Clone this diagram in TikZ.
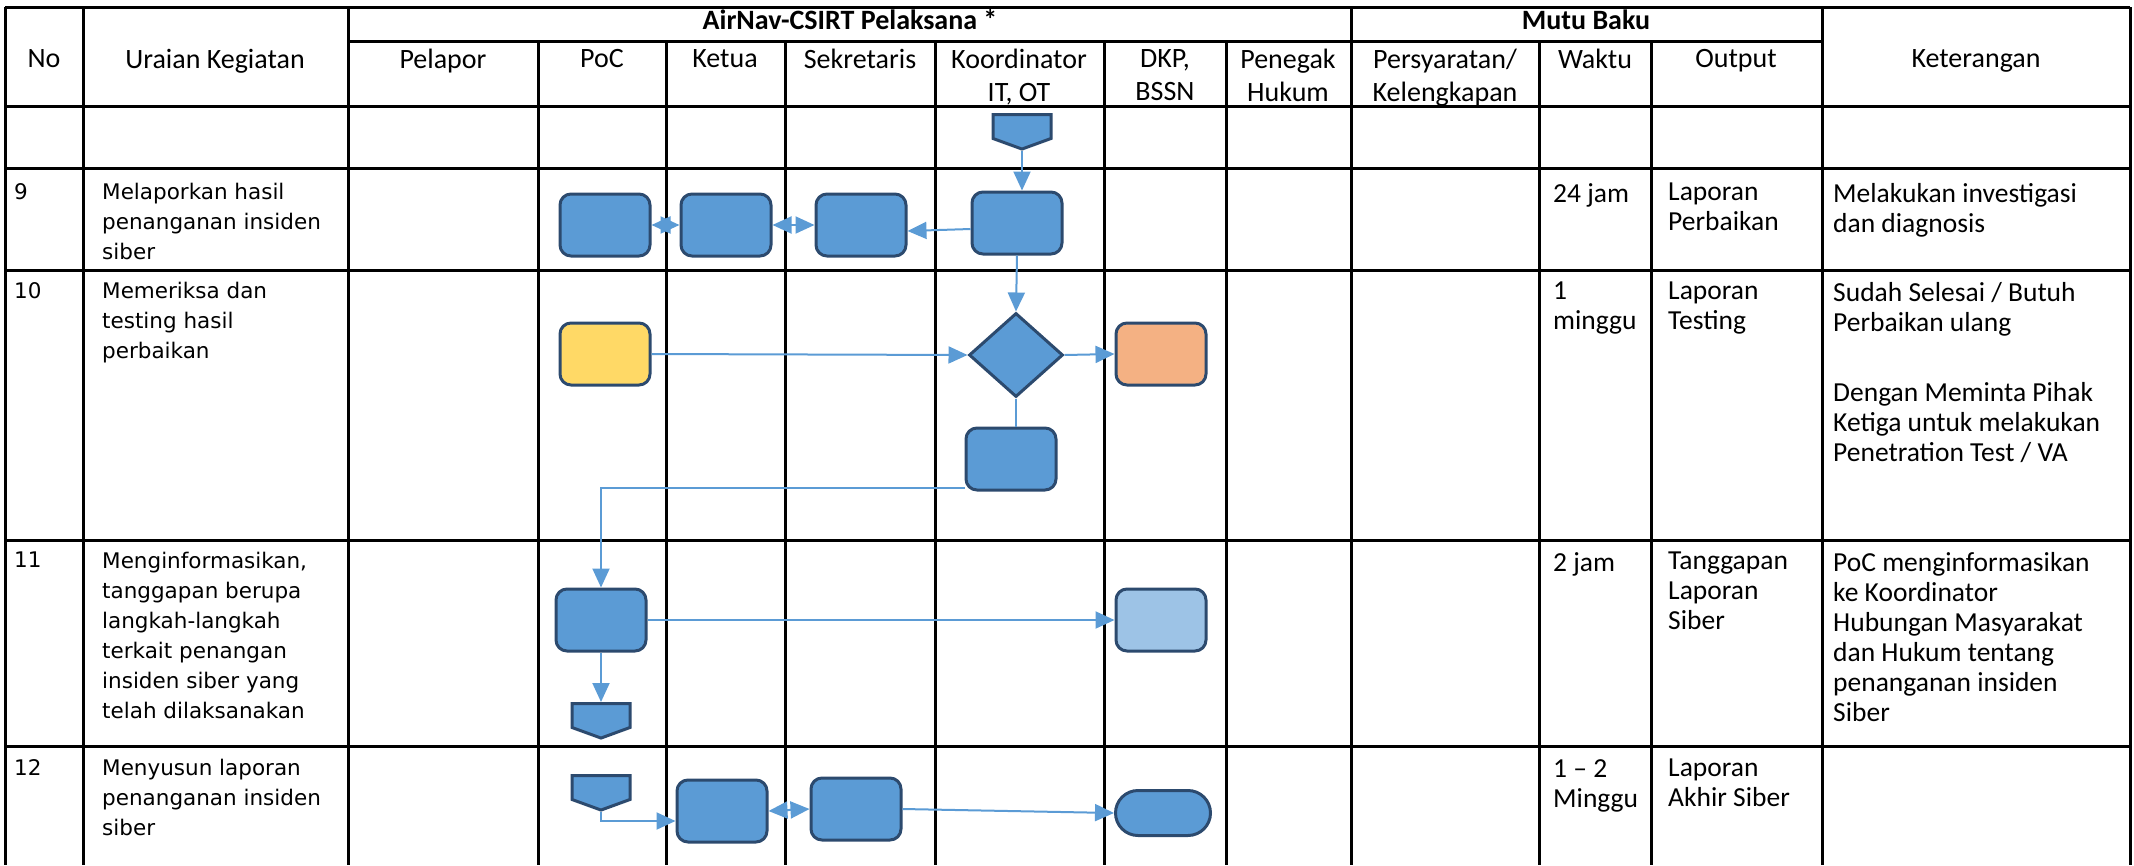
\documentclass[tikz,border=0pt]{standalone}
\usepackage{fontspec}
\setmainfont{Carlito}
\newfontfamily\verd{DejaVu Sans}
\usetikzlibrary{arrows.meta,shapes.geometric,shapes.misc,shapes.symbols}

\definecolor{flowblue}{HTML}{5B9BD5}
\definecolor{edgeblue}{HTML}{2C4A6E}
\definecolor{boxyellow}{HTML}{FFD966}
\definecolor{boxorange}{HTML}{F4B183}
\definecolor{boxlight}{HTML}{9DC3E6}

\tikzset{
  grid/.style={line width=3pt, black},
  proc/.style={draw=edgeblue, line width=3pt, fill=flowblue, rounded corners=11pt,
    minimum width=90pt, minimum height=62pt, inner sep=0pt},
  decis/.style={diamond, draw=edgeblue, line width=3pt, fill=flowblue,
    minimum width=94pt, minimum height=84pt, inner sep=0pt},
  offpage/.style={signal, signal to=south, signal pointer angle=140, draw=edgeblue,
    line width=3pt, fill=flowblue, minimum width=58pt, minimum height=24pt, inner sep=0pt,
    anchor=north},
  term/.style={rounded rectangle, draw=edgeblue, line width=3pt, fill=flowblue,
    minimum width=95pt, minimum height=45pt, inner sep=0pt},
  flowline/.style={draw=flowblue, line width=2pt},
  flow/.style={flowline, -{Triangle[length=19pt,width=17pt]}},
  flowboth/.style={flowline, {Triangle[length=19pt,width=17pt]}-{Triangle[length=19pt,width=17pt]}},
  head/.style={font=\fontsize{28}{33}\selectfont, align=center, anchor=north, inner sep=0pt},
  grouphead/.style={font=\bfseries\fontsize{28}{33}\selectfont, inner sep=0pt},
  cell/.style={font=\fontsize{27.5}{30}\selectfont, align=left, anchor=north west, inner sep=0pt},
  lcell/.style={font=\verd\fontsize{21.5}{30}\selectfont, align=left, anchor=north west, inner sep=0pt},
}

\begin{document}
\begin{tikzpicture}[x=1pt,y=-1pt]
  \useasboundingbox (0,0) rectangle (2134,865);

  % table grid
  \draw[grid] (5,7) -- (2130,7);
  \draw[grid] (348,41) -- (1822,41);
  \foreach \y in {106,168,270,540,746}
    \draw[grid] (5,\y) -- (2130,\y);
  \foreach \x in {5,83,348,1351,1822,2130}
    \draw[grid] (\x,7) -- (\x,865);
  \foreach \x in {538,666,785,935,1104,1226,1539,1651}
    \draw[grid] (\x,41) -- (\x,865);

  % header
  \node[grouphead] (hair) at (850,20) {AirNav-CSIRT Pelaksana *};
  \node[grouphead] (hmutu) at (1586,20) {Mutu Baku};
  \node[head] (hno) at (44,49) {No};
  \node[head] (hura) at (215,49) {Uraian Kegiatan};
  \node[head] (hpel) at (443,49) {Pelapor};
  \node[head] (hpoc) at (602,49) {PoC};
  \node[head] (hket) at (725,49) {Ketua};
  \node[head] (hsek) at (860,49) {Sekretaris};
  \node[head] (hkor) at (1019,49) {Koordinator\\IT, OT};
  \node[head] (hdkp) at (1165,49) {DKP,\\BSSN};
  \node[head] (hpen) at (1288,49) {Penegak\\Hukum};
  \node[head] (hsyr) at (1445,49) {Persyaratan/\\Kelengkapan};
  \node[head] (hwak) at (1595,49) {Waktu};
  \node[head] (hout) at (1736,49) {Output};
  \node[head] (hketr) at (1976,49) {Keterangan};

  % row texts
  \node[lcell] (n9) at (14,183) {9};
  \node[lcell] (u9) at (102,183) {Melaporkan hasil\\penanganan insiden\\siber};
  \node[cell] (w9) at (1553,183) {24 jam};
  \node[cell] (o9) at (1668,183) {Laporan\\Perbaikan};
  \node[cell] (k9) at (1833,183) {Melakukan investigasi\\dan diagnosis};

  \node[lcell] (n10) at (14,282) {10};
  \node[lcell] (u10) at (102,282) {Memeriksa dan\\testing hasil\\perbaikan};
  \node[cell] (w10) at (1553,282) {1\\minggu};
  \node[cell] (o10) at (1668,282) {Laporan\\Testing};
  \node[cell] (k10) at (1833,282) {Sudah Selesai / Butuh\\Perbaikan ulang\\[40pt]Dengan Meminta Pihak\\Ketiga untuk melakukan\\Penetration Test / VA};

  \node[lcell] (n11) at (14,552) {11};
  \node[lcell] (u11) at (102,552) {Menginformasikan,\\tanggapan berupa\\langkah-langkah\\terkait penangan\\insiden siber yang\\telah dilaksanakan};
  \node[cell] (w11) at (1553,552) {2 jam};
  \node[cell] (o11) at (1668,552) {Tanggapan\\Laporan\\Siber};
  \node[cell] (k11) at (1833,552) {PoC menginformasikan\\ke Koordinator\\Hubungan Masyarakat\\dan Hukum tentang\\penanganan insiden\\Siber};

  \node[lcell] (n12) at (14,759) {12};
  \node[lcell] (u12) at (102,759) {Menyusun laporan\\penanganan insiden\\siber};
  \node[cell] (w12) at (1553,759) {1 -- 2\\Minggu};
  \node[cell] (o12) at (1668,759) {Laporan\\Akhir Siber};

  % flow shapes
  \node[offpage] (pin) at (1022,113) {};
  \node[proc] (lapoc) at (605,225) {};
  \node[proc] (laket) at (726,225) {};
  \node[proc] (lasek) at (861,225) {};
  \node[proc] (lakor) at (1017,223) {};
  \node[proc, fill=boxyellow] (tspoc) at (605,354) {};
  \node[decis] (tsdec) at (1016,355) {};
  \node[proc, fill=boxorange] (tsdkp) at (1161,354) {};
  \node[proc] (tskor) at (1011,459) {};
  \node[proc] (inpoc) at (601,620) {};
  \node[proc, fill=boxlight] (indkp) at (1161,620) {};
  \node[offpage] (inout) at (601,702) {};
  \node[offpage] (syin) at (601,774) {};
  \node[proc] (syket) at (722,811) {};
  \node[proc] (sysek) at (856,809) {};
  \node[term] (sydkp) at (1163,813) {};

  % connectors
  \draw[flow] (pin.south) -- (pin.south |- lakor.north);
  \draw[flow] ([yshift=-6pt]lakor.west) -- ([yshift=-6pt]lasek.east);
  \draw[flowboth] (laket.east) -- (lasek.west);
  \draw[flowboth] (lapoc.east) -- (laket.west);
  \draw[flow] (lakor.south) -- (tsdec.north);
  \draw[flow] (tspoc.east) -- (tsdec.west);
  \draw[flow] (tsdec.east) -- (tsdkp.west);
  \draw[flowline] (tsdec.south) -- (tsdec.south |- tskor.north);
  \draw[flow] ([yshift=4pt]tskor.south west) -| (inpoc.north);
  \draw[flow] (inpoc.east) -- (indkp.west);
  \draw[flow] (inpoc.south) -- (inout.north);
  \draw[flow] (syin.south) |- ([yshift=-10pt]syket.west);
  \draw[flowboth] (syket.east) -- (sysek.west);
  \draw[flow] (sysek.east) -- (sydkp.west);
\end{tikzpicture}
\end{document}
